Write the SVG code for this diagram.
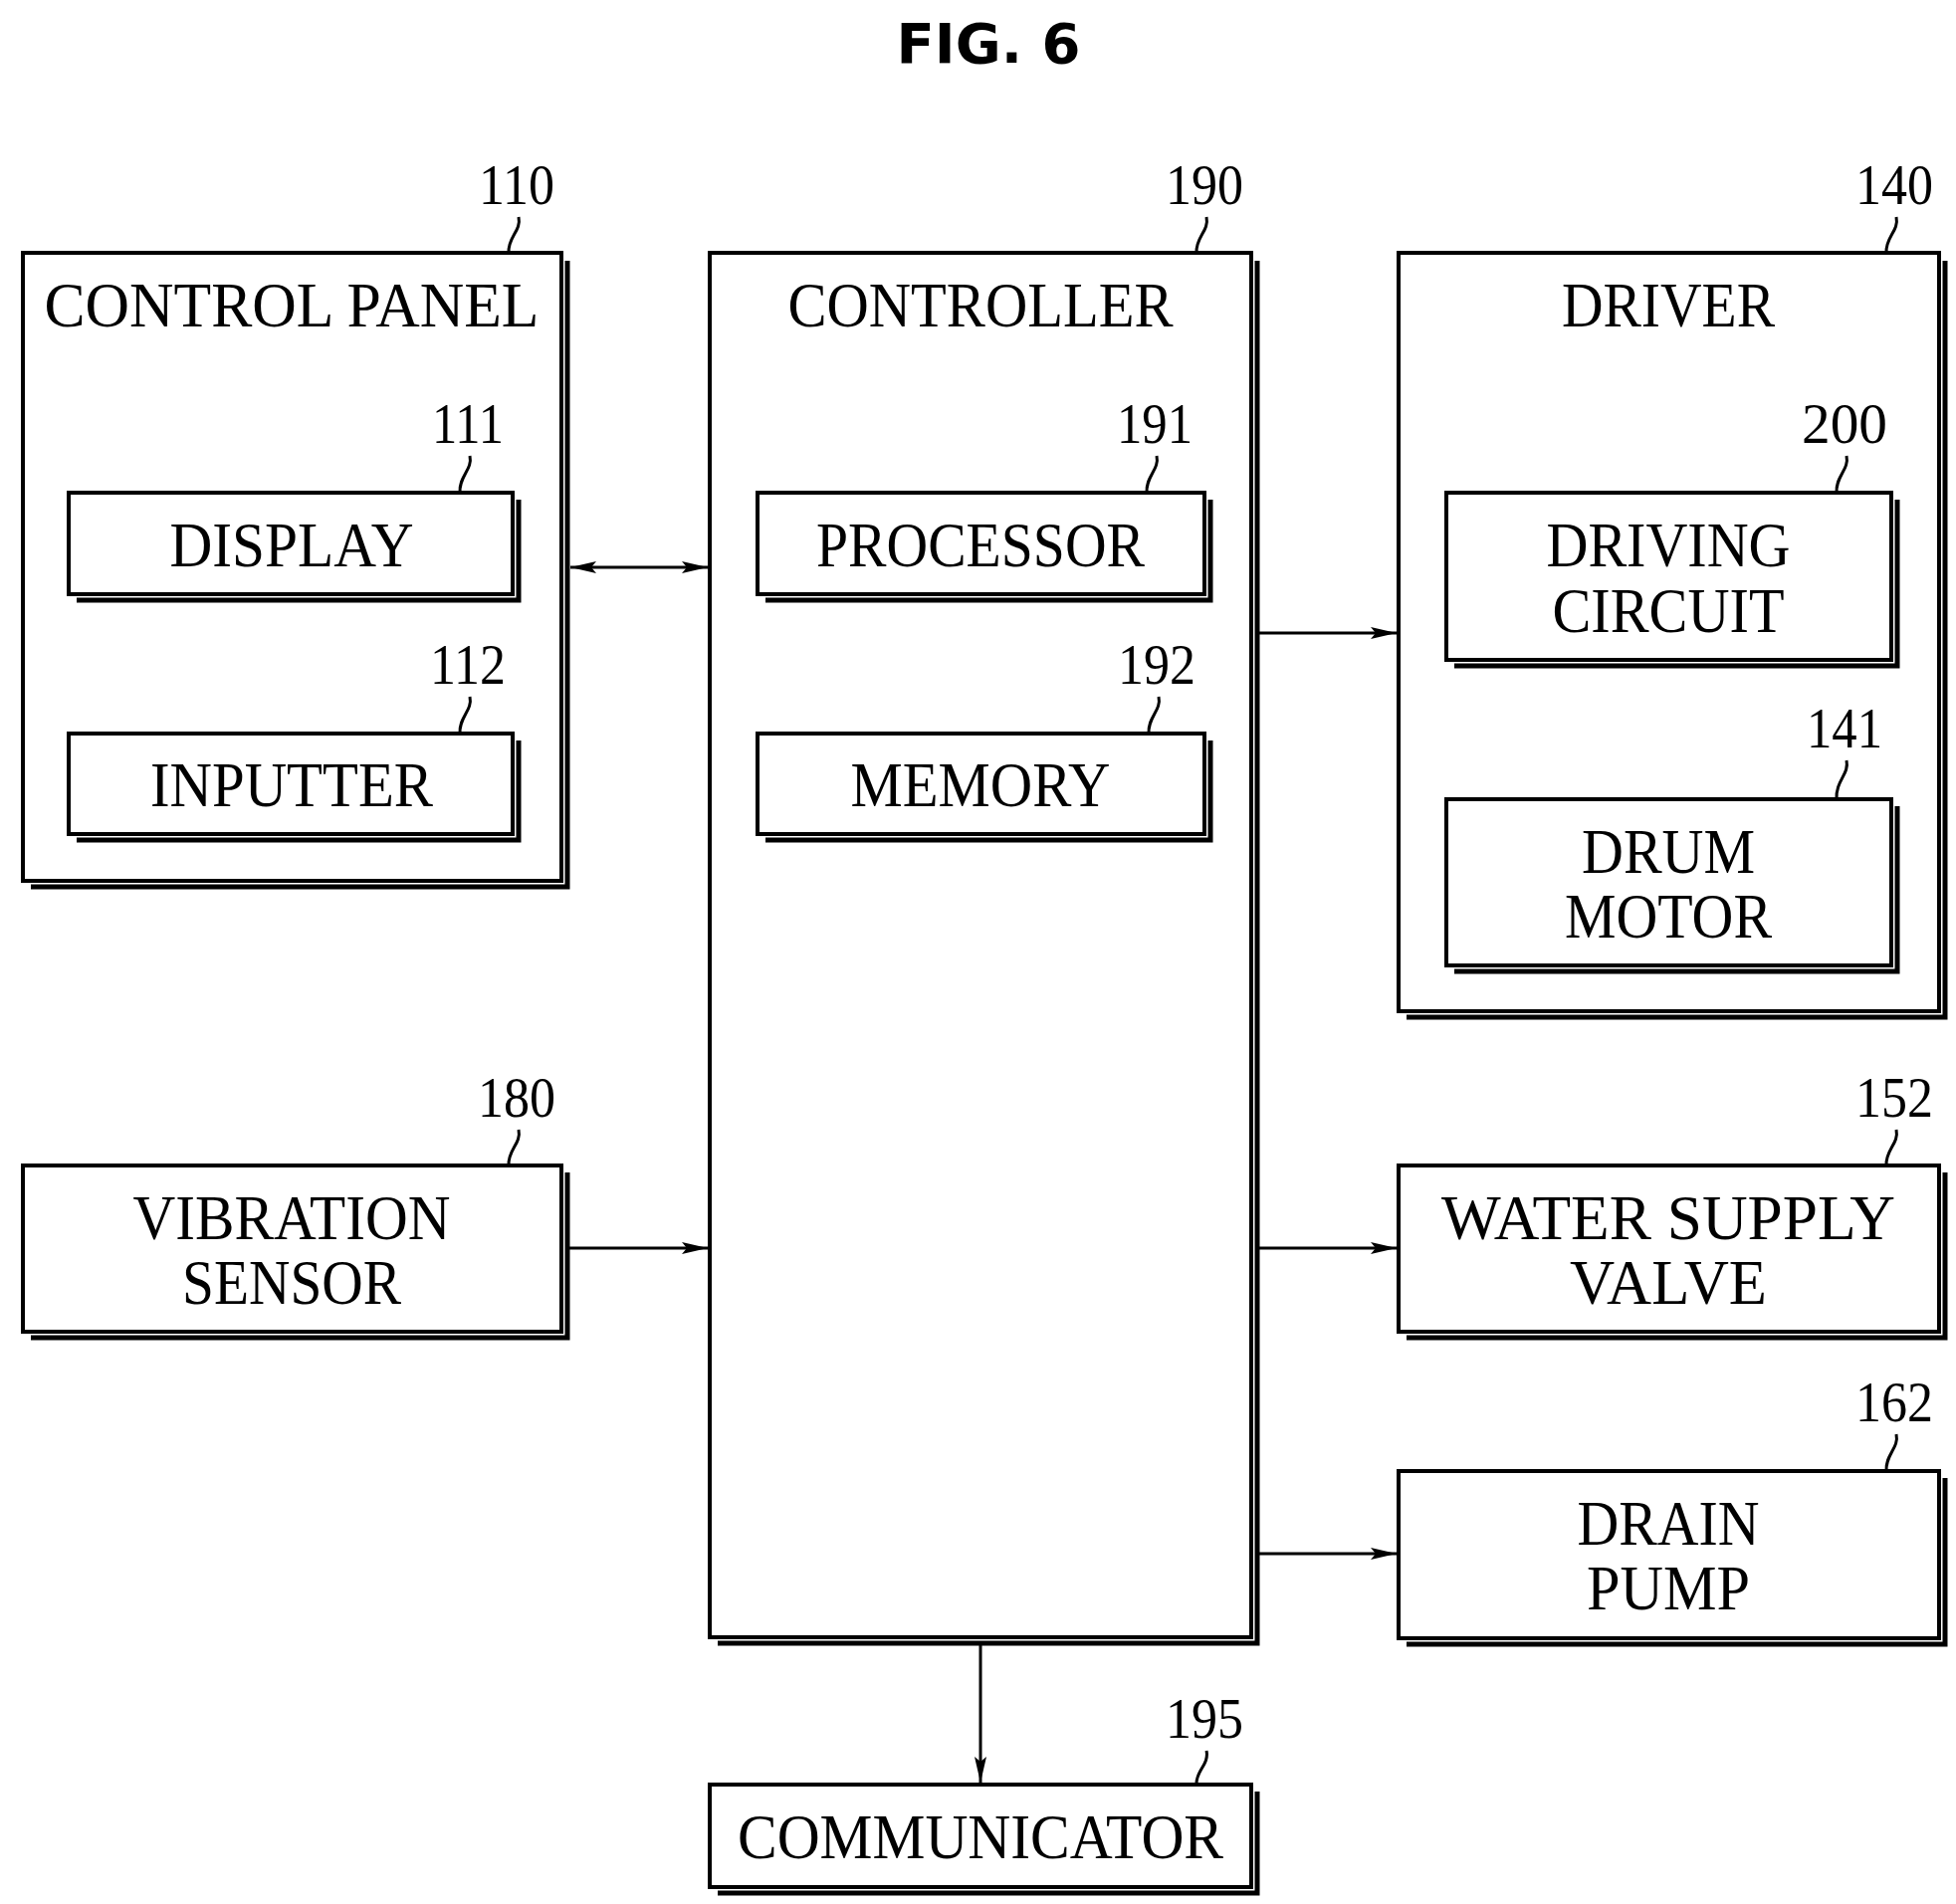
<svg xmlns="http://www.w3.org/2000/svg" width="1965" height="1913" viewBox="0 0 1965 1913">
<style>
.b{fill:#fff;stroke:#000;stroke-width:4}
.s{fill:none;stroke:#000;stroke-width:5}
.t{font-family:"Liberation Serif",serif;font-size:64px;text-anchor:middle}
.n{font-family:"Liberation Serif",serif;font-size:58px;text-anchor:middle}
.l{fill:none;stroke:#000;stroke-width:3}
.c{fill:none;stroke:#000;stroke-width:3}
</style>
<defs>
<marker id="a" markerWidth="26" markerHeight="14" refX="26" refY="7" orient="auto-start-reverse" markerUnits="userSpaceOnUse"><path d="M0,1 L26,7 L0,13 L5,7 Z" fill="#000"/></marker>
</defs>
<rect width="1965" height="1913" fill="#fff"/>
<text x="993" y="63" font-family="DejaVu Sans,sans-serif" font-weight="bold" font-size="56" text-anchor="middle">FIG. 6</text>
<g id="n110"><rect class="b" x="23" y="254" width="541" height="631"/><path class="s" d="M570,262 V891 H31"/><text class="t" x="293" y="328" textLength="497" lengthAdjust="spacingAndGlyphs">CONTROL  PANEL</text><text class="n" x="519" y="205" textLength="76" lengthAdjust="spacingAndGlyphs">110</text><path class="l" d="M521,218 C524,232 510,238 511,254"/></g>
<g id="n111"><rect class="b" x="69" y="495" width="446" height="102"/><path class="s" d="M521,502 V603 H77"/><text class="t" x="293" y="569" textLength="245" lengthAdjust="spacingAndGlyphs">DISPLAY</text><text class="n" x="470" y="445" textLength="72" lengthAdjust="spacingAndGlyphs">111</text><path class="l" d="M472,458 C475,472 461,478 462,495"/></g>
<g id="n112"><rect class="b" x="69" y="737" width="446" height="101"/><path class="s" d="M521,744 V844 H77"/><text class="t" x="293" y="810" textLength="284" lengthAdjust="spacingAndGlyphs">INPUTTER</text><text class="n" x="470" y="687" textLength="76" lengthAdjust="spacingAndGlyphs">112</text><path class="l" d="M472,700 C475,714 461,720 462,737"/></g>
<g id="n190"><rect class="b" x="713" y="254" width="544" height="1391"/><path class="s" d="M1263,262 V1651 H721"/><text class="t" x="985" y="328" textLength="387" lengthAdjust="spacingAndGlyphs">CONTROLLER</text><text class="n" x="1210" y="205" textLength="78" lengthAdjust="spacingAndGlyphs">190</text><path class="l" d="M1212,218 C1215,232 1201,238 1202,254"/></g>
<g id="n191"><rect class="b" x="761" y="495" width="449" height="102"/><path class="s" d="M1216,502 V603 H769"/><text class="t" x="985" y="569" textLength="330" lengthAdjust="spacingAndGlyphs">PROCESSOR</text><text class="n" x="1160" y="445" textLength="76" lengthAdjust="spacingAndGlyphs">191</text><path class="l" d="M1162,458 C1165,472 1151,478 1152,495"/></g>
<g id="n192"><rect class="b" x="761" y="737" width="449" height="101"/><path class="s" d="M1216,744 V844 H769"/><text class="t" x="985" y="810" textLength="261" lengthAdjust="spacingAndGlyphs">MEMORY</text><text class="n" x="1162" y="687" textLength="78" lengthAdjust="spacingAndGlyphs">192</text><path class="l" d="M1164,700 C1167,714 1153,720 1154,737"/></g>
<g id="n140"><rect class="b" x="1405" y="254" width="543" height="762"/><path class="s" d="M1954,262 V1022 H1413"/><text class="t" x="1676" y="328" textLength="214" lengthAdjust="spacingAndGlyphs">DRIVER</text><text class="n" x="1903" y="205" textLength="78" lengthAdjust="spacingAndGlyphs">140</text><path class="l" d="M1905,218 C1908,232 1894,238 1895,254"/></g>
<g id="n200"><rect class="b" x="1453" y="495" width="447" height="168"/><path class="s" d="M1906,502 V669 H1461"/><text class="t" x="1676" y="569" textLength="245" lengthAdjust="spacingAndGlyphs">DRIVING</text><text class="t" x="1676" y="635" textLength="233" lengthAdjust="spacingAndGlyphs">CIRCUIT</text><text class="n" x="1853" y="445" textLength="86" lengthAdjust="spacingAndGlyphs">200</text><path class="l" d="M1855,458 C1858,472 1844,478 1845,495"/></g>
<g id="n141"><rect class="b" x="1453" y="803" width="447" height="167"/><path class="s" d="M1906,810 V976 H1461"/><text class="t" x="1676" y="877" textLength="174" lengthAdjust="spacingAndGlyphs">DRUM</text><text class="t" x="1676" y="942" textLength="208" lengthAdjust="spacingAndGlyphs">MOTOR</text><text class="n" x="1853" y="751" textLength="76" lengthAdjust="spacingAndGlyphs">141</text><path class="l" d="M1855,764 C1858,778 1844,784 1845,803"/></g>
<g id="n180"><rect class="b" x="23" y="1171" width="541" height="167"/><path class="s" d="M570,1178 V1344 H31"/><text class="t" x="293" y="1245" textLength="319" lengthAdjust="spacingAndGlyphs">VIBRATION</text><text class="t" x="293" y="1310" textLength="220" lengthAdjust="spacingAndGlyphs">SENSOR</text><text class="n" x="519" y="1122" textLength="78" lengthAdjust="spacingAndGlyphs">180</text><path class="l" d="M521,1135 C524,1149 510,1155 511,1171"/></g>
<g id="n152"><rect class="b" x="1405" y="1171" width="543" height="167"/><path class="s" d="M1954,1178 V1344 H1413"/><text class="t" x="1676" y="1245" textLength="456" lengthAdjust="spacingAndGlyphs">WATER  SUPPLY</text><text class="t" x="1676" y="1310" textLength="198" lengthAdjust="spacingAndGlyphs">VALVE</text><text class="n" x="1903" y="1122" textLength="78" lengthAdjust="spacingAndGlyphs">152</text><path class="l" d="M1905,1135 C1908,1149 1894,1155 1895,1171"/></g>
<g id="n162"><rect class="b" x="1405" y="1478" width="543" height="168"/><path class="s" d="M1954,1485 V1652 H1413"/><text class="t" x="1676" y="1552" textLength="183" lengthAdjust="spacingAndGlyphs">DRAIN</text><text class="t" x="1676" y="1617" textLength="164" lengthAdjust="spacingAndGlyphs">PUMP</text><text class="n" x="1903" y="1428" textLength="78" lengthAdjust="spacingAndGlyphs">162</text><path class="l" d="M1905,1441 C1908,1455 1894,1461 1895,1478"/></g>
<g id="n195"><rect class="b" x="713" y="1793" width="544" height="103"/><path class="s" d="M1263,1800 V1902 H721"/><text class="t" x="985" y="1867" textLength="488" lengthAdjust="spacingAndGlyphs">COMMUNICATOR</text><text class="n" x="1210" y="1746" textLength="78" lengthAdjust="spacingAndGlyphs">195</text><path class="l" d="M1212,1759 C1215,1773 1201,1779 1202,1793"/></g>
<g id="connectors">
<path class="c" d="M573,570 H711" marker-start="url(#a)" marker-end="url(#a)"/>
<path class="c" d="M1265,636 H1403" marker-end="url(#a)"/>
<path class="c" d="M572,1254 H711" marker-end="url(#a)"/>
<path class="c" d="M1265,1254 H1403" marker-end="url(#a)"/>
<path class="c" d="M1265,1561 H1403" marker-end="url(#a)"/>
<path class="c" d="M985,1653 V1791" marker-end="url(#a)"/>
</g>
</svg>
